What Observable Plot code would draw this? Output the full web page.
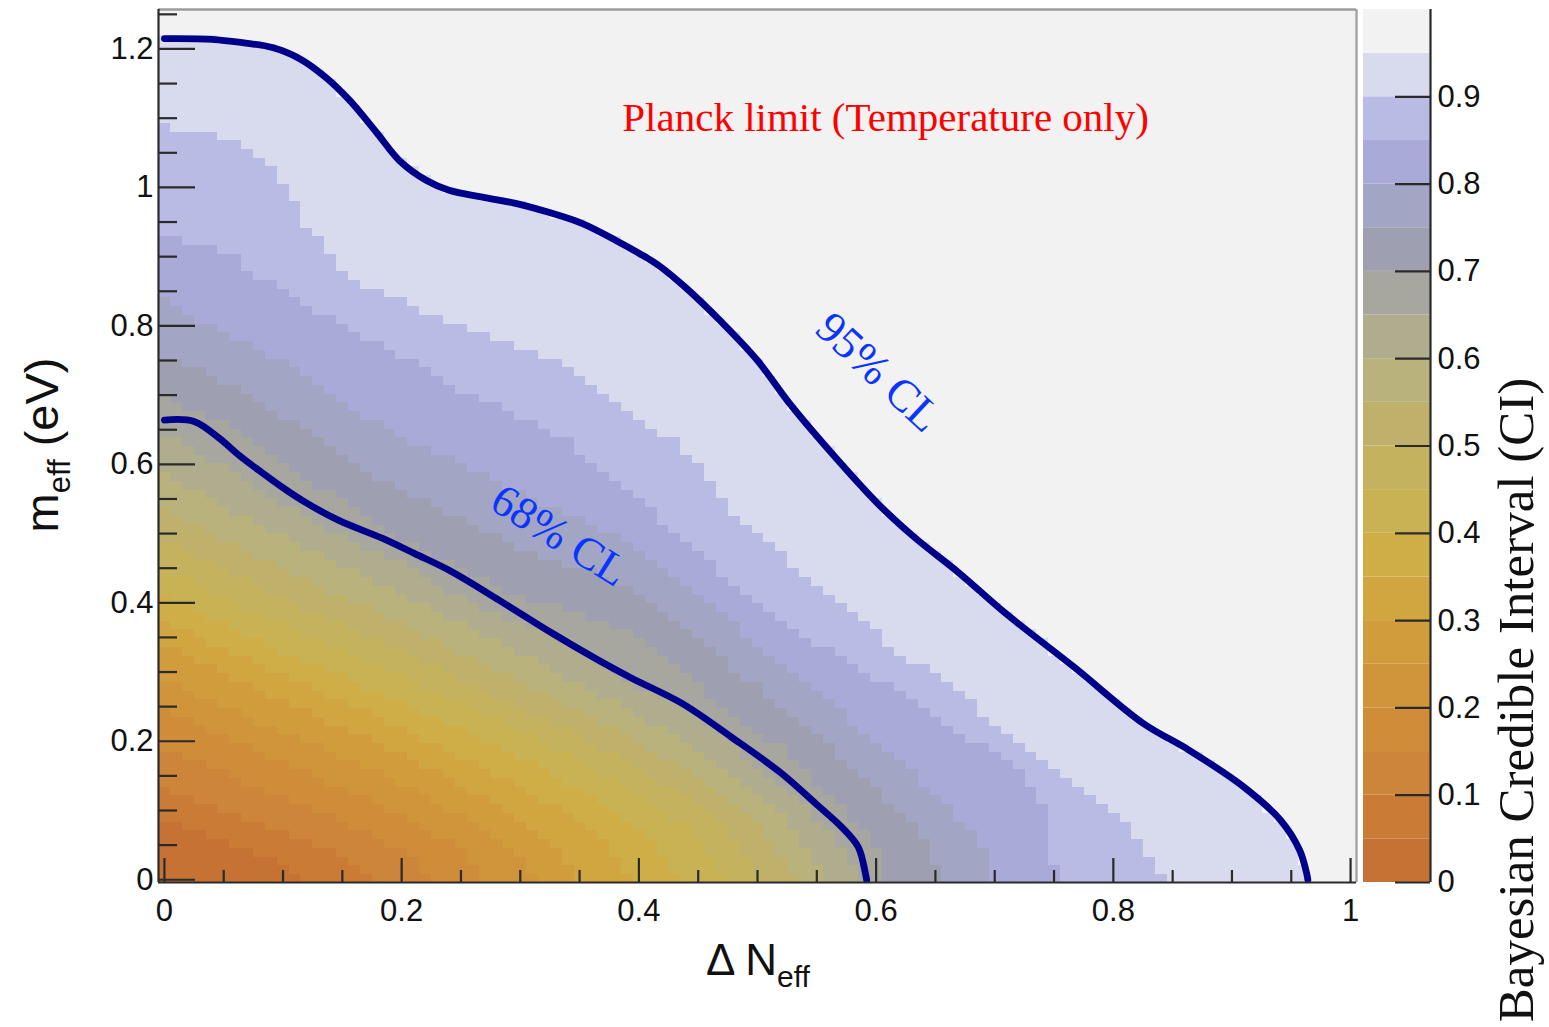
<!DOCTYPE html>
<html>
<head>
<meta charset="utf-8">
<script src="https://cdn.jsdelivr.net/npm/d3@7"></script>
<script src="https://cdn.jsdelivr.net/npm/@observablehq/plot@0.6"></script>
<style>
  body { margin: 0; background: #fff; }
  #chart { position: relative; width: 1549px; height: 1027px; overflow: hidden; }
  #chart svg { position: absolute; top: 0; }
</style>
</head>
<body>
<div id="chart"></div>
<script>
// ---- Credible-interval colour bands (lower edge of each band) ----
const ciThresholds = [0.05, 0.10, 0.15, 0.20, 0.25, 0.30, 0.35, 0.40, 0.45, 0.50,
                      0.55, 0.60, 0.65, 0.70, 0.75, 0.80, 0.85, 0.90, 0.95];
const ciColors = ["#c67234", "#ca7c37", "#cd8539", "#cf8c39", "#d0943a", "#d19c3c",
                  "#d1a640", "#cfae48", "#c9b254", "#c4b25e", "#bfb16c", "#b9b27c",
                  "#b0ac8e", "#a7a69f", "#9ea0b2", "#a2a5c3", "#a9aad8", "#b8bbe4",
                  "#d8daee", "#f2f2f2"];
const colorbarTicks = [0, 0.1, 0.2, 0.3, 0.4, 0.5, 0.6, 0.7, 0.8, 0.9];

// ---- Axis ticks ----
const xMajor = [0, 0.2, 0.4, 0.6, 0.8, 1];
const xMinor = [0.05, 0.1, 0.15, 0.25, 0.3, 0.35, 0.45, 0.5, 0.55, 0.65, 0.7, 0.75, 0.85, 0.9, 0.95];
const yMajor = [0, 0.2, 0.4, 0.6, 0.8, 1, 1.2];
const yMinor = [0.05, 0.1, 0.15, 0.25, 0.3, 0.35, 0.45, 0.5, 0.55, 0.65, 0.7, 0.75, 0.85, 0.9, 0.95, 1.05, 1.1, 1.15, 1.25];

// ---- Iso-CI boundaries, [ΔNeff, m_eff (eV)] ----
const ci05 = [[0,0.086],[0.020,0.073],[0.039,0.062],[0.059,0.050],[0.078,0.038],[0.097,0.023],[0.107,0.014],[0.115,0]];
const ci10 = [[0,0.129],[0.030,0.110],[0.059,0.093],[0.089,0.075],[0.118,0.056],[0.147,0.035],[0.162,0.021],[0.174,0]];
const ci15 = [[0,0.190],[0.038,0.162],[0.076,0.136],[0.114,0.110],[0.152,0.083],[0.189,0.051],[0.208,0.032],[0.224,0]];
const ci20 = [[0,0.245],[0.046,0.209],[0.092,0.176],[0.138,0.142],[0.184,0.107],[0.228,0.066],[0.251,0.041],[0.270,0]];
const ci25 = [[0,0.290],[0.054,0.247],[0.107,0.208],[0.161,0.168],[0.214,0.127],[0.266,0.078],[0.293,0.048],[0.315,0]];
const ci30 = [[0,0.340],[0.060,0.290],[0.119,0.244],[0.179,0.197],[0.238,0.149],[0.296,0.092],[0.326,0.056],[0.350,0]];
const ci35 = [[0,0.375],[0.067,0.320],[0.134,0.269],[0.201,0.218],[0.268,0.164],[0.333,0.101],[0.366,0.062],[0.394,0]];
const ci40 = [[0,0.410],[0.074,0.349],[0.148,0.294],[0.222,0.238],[0.296,0.179],[0.368,0.111],[0.405,0.068],[0.436,0]];
const ci45 = [[0,0.450],[0.081,0.383],[0.162,0.323],[0.243,0.261],[0.324,0.197],[0.402,0.122],[0.443,0.075],[0.476,0]];
const ci50 = [[0,0.490],[0.086,0.417],[0.172,0.352],[0.258,0.284],[0.343,0.214],[0.427,0.132],[0.470,0.081],[0.505,0]];
const ci55 = [[0,0.535],[0.091,0.456],[0.182,0.384],[0.273,0.310],[0.364,0.234],[0.452,0.144],[0.498,0.089],[0.535,0]];
const ci60 = [[0,0.585],[0.095,0.498],[0.190,0.420],[0.286,0.339],[0.381,0.256],[0.473,0.158],[0.521,0.097],[0.560,0]];
const ci65 = [[0,0.640],[0.099,0.545],[0.198,0.460],[0.297,0.371],[0.396,0.280],[0.492,0.173],[0.541,0.106],[0.582,0]];
const ci70 = [[0,0.697],[0.05,0.660],[0.1,0.605],[0.15,0.545],[0.198,0.495],[0.25,0.450],[0.3,0.410],[0.35,0.385],
              [0.4,0.353],[0.45,0.280],[0.5,0.210],[0.55,0.140],[0.58,0.090],[0.6,0.045],[0.61,0]];
const ci75 = [[0,0.757],[0.05,0.720],[0.1,0.670],[0.15,0.610],[0.198,0.563],[0.25,0.520],[0.3,0.480],[0.35,0.450],
              [0.4,0.418],[0.45,0.350],[0.5,0.280],[0.55,0.210],[0.6,0.130],[0.63,0.080],[0.648,0.035],[0.655,0]];
const ci80 = [[0,0.837],[0.05,0.790],[0.1,0.750],[0.15,0.690],[0.198,0.639],[0.25,0.600],[0.3,0.560],[0.35,0.520],
              [0.4,0.478],[0.45,0.410],[0.5,0.340],[0.55,0.270],[0.6,0.200],[0.65,0.125],[0.68,0.070],[0.695,0.030],[0.70,0]];
const ci85 = [[0,0.926],[0.034,0.916],[0.055,0.904],[0.076,0.894],[0.084,0.866],[0.105,0.851],[0.115,0.834],[0.136,0.815],
              [0.156,0.794],[0.184,0.769],[0.204,0.755],[0.234,0.721],[0.254,0.703],[0.274,0.688],[0.293,0.673],[0.324,0.649],
              [0.339,0.635],[0.358,0.606],[0.386,0.573],[0.404,0.544],[0.424,0.509],[0.454,0.466],[0.485,0.422],[0.516,0.379],
              [0.555,0.336],[0.594,0.298],[0.632,0.255],[0.670,0.212],[0.709,0.173],[0.733,0.134],[0.748,0.082],[0.749,0.033],[0.752,0]];
const ci90 = [[0,1.088],[0.034,1.080],[0.055,1.068],[0.076,1.049],[0.095,1.017],[0.105,0.988],[0.125,0.933],[0.146,0.890],
              [0.167,0.861],[0.184,0.847],[0.204,0.832],[0.223,0.815],[0.254,0.796],[0.293,0.775],[0.316,0.760],[0.347,0.731],
              [0.364,0.717],[0.386,0.674],[0.406,0.659],[0.435,0.630],[0.454,0.591],[0.473,0.548],[0.485,0.519],[0.516,0.476],
              [0.543,0.437],[0.574,0.399],[0.594,0.370],[0.616,0.331],[0.648,0.298],[0.670,0.269],[0.701,0.226],[0.733,0.177],
              [0.752,0.154],[0.787,0.115],[0.813,0.082],[0.833,0.033],[0.843,0]];

// ---- Confidence contours ----
const contour68 = [[0,0.664],[0.025,0.662],[0.046,0.638],[0.063,0.613],[0.080,0.591],[0.101,0.565],[0.120,0.544],[0.147,0.519],
                   [0.184,0.493],[0.211,0.471],[0.240,0.447],[0.282,0.404],[0.327,0.356],[0.366,0.317],[0.394,0.291],[0.436,0.255],
                   [0.478,0.206],[0.520,0.154],[0.549,0.110],[0.571,0.076],[0.585,0.047],[0.591,0.009],[0.592,0]];
const contour95 = [[0,1.215],[0.040,1.214],[0.066,1.209],[0.091,1.202],[0.114,1.186],[0.136,1.159],[0.156,1.126],[0.179,1.079],
                   [0.198,1.039],[0.221,1.010],[0.240,0.996],[0.268,0.986],[0.296,0.977],[0.324,0.964],[0.352,0.948],[0.381,0.923],
                   [0.400,0.905],[0.417,0.887],[0.439,0.856],[0.470,0.805],[0.500,0.750],[0.527,0.688],[0.558,0.625],[0.601,0.544],
                   [0.632,0.495],[0.670,0.443],[0.709,0.385],[0.767,0.307],[0.825,0.226],[0.864,0.187],[0.910,0.134],[0.941,0.086],
                   [0.957,0.043],[0.963,0.009],[0.964,0]];
const clLevels = [0.68, 0.95];

// Region beyond the 95% contour (CI close to 1) and the best-fit point (CI = 0)
const outerRegion = [[-0.005,1.257],[0.1,1.257],[0.2,1.257],[0.3,1.257],[0.4,1.257],[0.5,1.257],[0.6,1.257],[0.7,1.257],
                     [0.8,1.257],[0.9,1.257],[1.005,1.257],[1.005,1.1],[1.005,0.9],[1.005,0.7],[1.005,0.5],[1.005,0.3],
                     [1.005,0.1],[1.005,-0.004],[0.985,-0.004]];
const bestFit = [[0, 0]];

// ---- Layout ----
const W = 1549, H = 1027;
const mTop = 9, mBottom = 145, mLeft = 158, mRight = 193;
const frameW = W - mLeft - mRight, frameH = H - mTop - mBottom;
const xDom = [-0.005, 1.005], yDom = [-0.004, 1.257];

// ---- Build samples for the CI map ----
// Each boundary also touches the frame edges (its first point sits on ΔN = 0, its last on m = 0).
const boundaryCurves = [ci05, ci10, ci15, ci20, ci25, ci30, ci35, ci40, ci45, ci50,
                        ci55, ci60, ci65, ci70, ci75, ci80, ci85, ci90, contour95];
const samples = [];
boundaryCurves.forEach((curve, i) => {
  const ci = ciThresholds[i];
  curve.forEach(([x, y]) => samples.push({x, y, ci}));
  samples.push({x: xDom[0], y: curve[0][1], ci});
  samples.push({x: curve[curve.length - 1][0], y: yDom[0], ci});
});
outerRegion.forEach(([x, y]) => samples.push({x, y, ci: 1}));
bestFit.forEach(([x, y]) => {
  samples.push({x, y, ci: 0});
  samples.push({x: xDom[0], y: yDom[0], ci: 0});
});

const colorScale = {type: "threshold", domain: ciThresholds, range: ciColors};
const axisInk = "#2a2a2a";
const serif = "'Liberation Serif', 'Times New Roman', serif";
const sans = "'Liberation Sans', Arial, sans-serif";
const fmt = d => String(d);
// bin grid offset by a hair so bin centres never fall exactly on the ΔN = 0 samples
const rasterPad = 0.0004;

const main = Plot.plot({
  width: W, height: H,
  marginTop: mTop, marginBottom: mBottom, marginLeft: mLeft, marginRight: mRight,
  x: {domain: xDom},
  y: {domain: yDom},
  color: colorScale,
  style: {fontFamily: sans, fontSize: "31px", color: "#111", background: "transparent"},
  marks: [
    Plot.frame({fill: "#f2f2f2"}),
    Plot.raster(samples, {
      x: "x", y: "y", fill: "ci", interpolate: "barycentric",
      x1: xDom[0] - rasterPad, x2: xDom[1] + rasterPad, y1: yDom[0] - rasterPad, y2: yDom[1] + rasterPad,
      width: 101, height: 100, imageRendering: "pixelated", clip: true
    }),
    Plot.line(contour68, {x: d => d[0], y: d => d[1], stroke: "#00008a", strokeWidth: 6.8, curve: "catmull-rom"}),
    Plot.line(contour95, {x: d => d[0], y: d => d[1], stroke: "#00008a", strokeWidth: 6.8, curve: "catmull-rom"}),
    // frame border
    Plot.ruleY([yDom[1]], {stroke: "#9c9c9c", strokeWidth: 2.5}),
    Plot.ruleX([xDom[1]], {stroke: "#a6a6a6", strokeWidth: 2.5}),
    Plot.ruleX([xDom[0]], {stroke: axisInk, strokeWidth: 2.2}),
    Plot.ruleY([yDom[0]], {stroke: axisInk, strokeWidth: 2.2}),
    // inward ticks
    Plot.tickX(xMajor, {x: d => d, insetTop: frameH - 24, stroke: axisInk, strokeWidth: 2.2}),
    Plot.tickX(xMinor, {x: d => d, insetTop: frameH - 12, stroke: axisInk, strokeWidth: 2.2}),
    Plot.tickY(yMajor, {y: d => d, insetRight: frameW - 37, stroke: axisInk, strokeWidth: 2.2}),
    Plot.tickY(yMinor, {y: d => d, insetRight: frameW - 19, stroke: axisInk, strokeWidth: 2.2}),
    Plot.axisX(xMajor, {tickSize: 0, tickPadding: 16, tickFormat: fmt, label: null}),
    Plot.axisY(yMajor, {tickSize: 0, tickPadding: 5, tickFormat: fmt, label: null}),
    // annotations
    Plot.text(["Planck limit (Temperature only)"], {
      x: 0.608, y: 1.10, fill: "#ff0000", fontSize: 41, fontFamily: serif,
      textAnchor: "middle", lineAnchor: "middle"
    }),
    Plot.text([clLevels[1]], {
      x: 0.602, y: 0.733, text: d => `${Math.round(d * 100)}% CL`, rotate: 43, fill: "#0a35ff", fontSize: 45,
      fontFamily: serif, textAnchor: "middle", lineAnchor: "middle"
    }),
    Plot.text([clLevels[0]], {
      x: 0.333, y: 0.497, text: d => `${Math.round(d * 100)}% CL`, rotate: 32, fill: "#0a35ff", fontSize: 45,
      fontFamily: serif, textAnchor: "middle", lineAnchor: "middle"
    })
  ]
});

// Axis titles with subscripts
const svgMain = d3.select(main);
const xTitle = svgMain.append("text")
  .attr("x", 758).attr("y", 975).attr("text-anchor", "middle")
  .attr("font-family", sans).attr("font-size", 44).attr("fill", "#111");
xTitle.append("tspan").text("\u0394 N");
xTitle.append("tspan").attr("font-size", 30).attr("dy", 12).text("eff");

const yTitle = svgMain.append("text")
  .attr("transform", "translate(58,445) rotate(-90)").attr("text-anchor", "middle")
  .attr("font-family", sans).attr("font-size", 47).attr("fill", "#111");
yTitle.append("tspan").text("m");
yTitle.append("tspan").attr("font-size", 31).attr("dy", 12).text("eff");
yTitle.append("tspan").attr("dy", -12).text(" (eV)");

// ---- Colour bar ----
const bandLow = [0, ...ciThresholds];
const bands = bandLow.map((lo, i) => ({lo, hi: i < ciThresholds.length ? ciThresholds[i] : 1}));
const barLeft = 1355, barW = 194, barInner = 67;

const bar = Plot.plot({
  width: barW, height: H,
  marginTop: mTop, marginBottom: mBottom, marginLeft: 8, marginRight: barW - 8 - barInner,
  x: {domain: [0, 1], axis: null},
  y: {domain: [0, 1]},
  color: colorScale,
  style: {fontFamily: sans, fontSize: "31px", color: "#111", background: "transparent"},
  marks: [
    Plot.rect(bands, {x1: 0, x2: 1, y1: "lo", y2: "hi", fill: "lo"}),
    Plot.ruleX([1], {stroke: axisInk, strokeWidth: 2.2}),
    Plot.tickY(colorbarTicks, {y: d => d, insetLeft: barInner - 35, stroke: axisInk, strokeWidth: 2.2}),
    Plot.axisY(colorbarTicks, {anchor: "right", tickSize: 0, tickPadding: 7, tickFormat: fmt, label: null})
  ]
});
bar.style.left = barLeft + "px";

d3.select(bar).append("text")
  .attr("transform", `translate(${1533 - barLeft},700) rotate(-90)`).attr("text-anchor", "middle")
  .attr("font-family", serif).attr("font-size", 51).attr("fill", "#111")
  .text("Bayesian Credible Interval (CI)");

const chart = document.getElementById("chart");
main.style.left = "0px";
chart.append(main, bar);
</script>
</body>
</html>
